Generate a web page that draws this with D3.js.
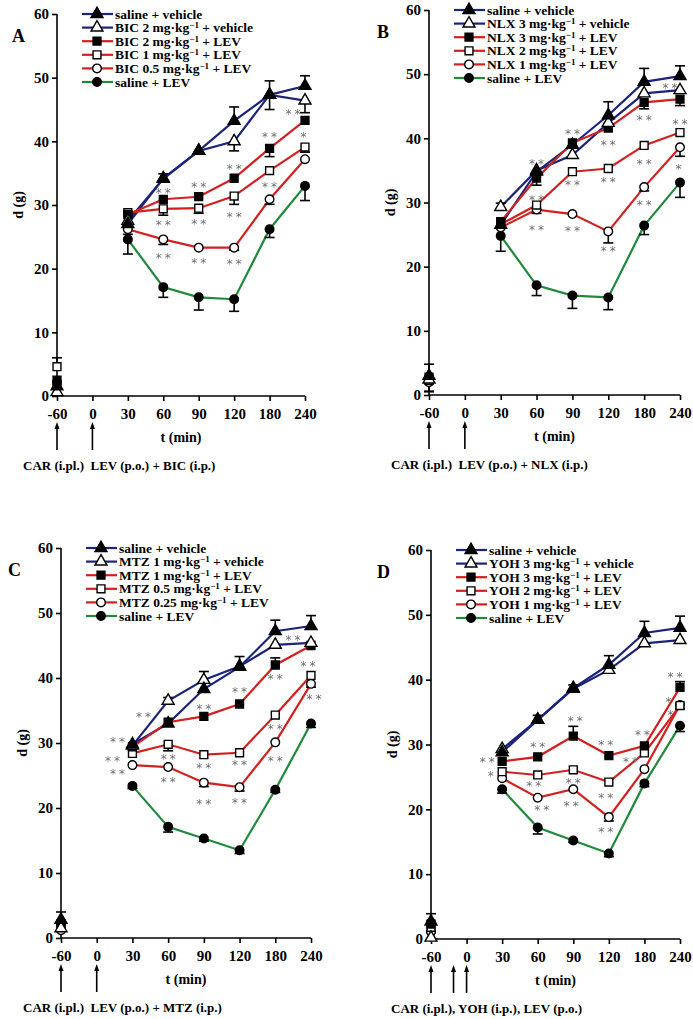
<!DOCTYPE html>
<html>
<head>
<meta charset="utf-8">
<script src="https://cdn.jsdelivr.net/npm/d3@7"></script>
<style>
  body { margin: 0; background: #fff; }
  text { font-family: "Liberation Serif", "Times New Roman", serif; font-weight: bold; fill: #000; }
  .star { font-family: "DejaVu Sans", "Liberation Sans", sans-serif; font-weight: normal; fill: #6e6e6e; }
</style>
</head>
<body>
<div id="vis"></div>
<script>
// x categories (min) and y ticks
var times = ["-60", "0", "30", "60", "90", "120", "180", "240"];
var yTicks = [0, 10, 20, 30, 40, 50, 60];

// ---- panel A : bicuculline
var namesA = ["saline + vehicle", "BIC 2 mg·kg^−1 + vehicle", "BIC 2 mg·kg^−1 + LEV",
              "BIC 1 mg·kg^−1 + LEV", "BIC 0.5 mg·kg^−1 + LEV", "saline + LEV"];
var valuesA = [
  [1.5, null, 27.0, 34.2, 38.5, 43.2, 47.3, 48.7],
  [0.6, null, 27.5, 34.1, 38.5, 40.0, 47.3, 46.4],
  [2.5, null, 28.5, 30.9, 31.3, 34.2, 38.9, 43.3],
  [4.6, null, 28.8, 29.4, 29.5, 31.4, 35.4, 39.1],
  [1.5, null, 26.2, 24.6, 23.3, 23.3, 30.9, 37.2],
  [2.2, null, 24.6, 17.1, 15.5, 15.2, 26.2, 33.0]
];
var errorsA = [
  [0, 0, 0, 0, 0, 2.2, 2.2, 1.6],
  [0, 0, 0, 0.8, 0, -1.5, -2.3, -1.9],
  [0, 0, 0, 0, 0, 0, -1.3, 0],
  [1.4, 0, 0, -1.0, -0.8, -1.3, 0, -0.8],
  [0, 0, -0.8, -0.8, 0, -0.4, -0.8, 0],
  [0, 0, -2.3, -1.6, -2.0, -1.9, -1.3, -2.3]
];
var starsA = [
  ["60", 32.2, "**", 0], ["60", 27.2, "**", 0], ["60", 22.0, "**", 0],
  ["90", 33.1, "**", 0], ["90", 27.4, "**", 0], ["90", 21.2, "**", 0],
  ["120", 36.0, "**", 0], ["120", 28.4, "**", 0], ["120", 21.1, "**", 0],
  ["180", 41.0, "**", 0], ["180", 33.1, "**", 0],
  ["240", 44.6, "**", -12], ["240", 41.0, "*", 0]
];

// ---- panel B : naloxone
var namesB = ["saline + vehicle", "NLX 3 mg·kg^−1 + vehicle", "NLX 3 mg·kg^−1 + LEV",
              "NLX 2 mg·kg^−1 + LEV", "NLX 1 mg·kg^−1 + LEV", "saline + LEV"];
var valuesB = [
  [3.0, null, 26.5, 34.8, 39.0, 43.6, 48.8, 49.7],
  [2.4, null, 29.3, 35.0, 37.4, 42.4, 47.0, 47.5],
  [2.8, null, 27.0, 33.8, 39.3, 41.6, 45.6, 46.1],
  [2.3, null, 26.6, 29.6, 34.8, 35.3, 38.9, 40.9],
  [2.0, null, 26.1, 28.9, 28.2, 25.5, 32.4, 38.6],
  [2.6, null, 24.8, 17.1, 15.5, 15.2, 26.4, 33.1]
];
var errorsB = [
  [1.8, 0, 0, 0, 0, 2.1, 2.1, 1.6],
  [0, 0, 0.6, 0, 0, 0, 0, 0],
  [0, 0, 0, -1.1, 0, 0, -1.0, -1.0],
  [0, 0, 0, 0, 0, 0, 0, 0],
  [-1.5, 0, 0, -0.6, 0, -1.8, -0.6, -1.4],
  [-2.0, 0, -2.4, -1.6, -2.0, -1.9, -1.4, -2.3]
];
var starsB = [
  ["60", 36.3, "**", 0], ["60", 30.7, "**", 0], ["60", 26.1, "**", 0],
  ["90", 41.0, "**", 0], ["90", 33.0, "**", 0], ["90", 25.8, "**", 0],
  ["120", 39.2, "**", 0], ["120", 33.5, "**", 0], ["120", 22.8, "**", 0],
  ["180", 43.1, "**", 0], ["180", 36.3, "**", 0], ["180", 29.9, "**", 0],
  ["240", 48.1, "**", -10], ["240", 42.6, "**", 0], ["240", 35.6, "*", 0]
];

// ---- panel C : metergoline
var namesC = ["saline + vehicle", "MTZ 1 mg·kg^−1 + vehicle", "MTZ 1 mg·kg^−1 + LEV",
              "MTZ 0.5 mg·kg^−1 + LEV", "MTZ 0.25 mg·kg^−1 + LEV", "saline + LEV"];
var valuesC = [
  [2.8, null, 29.8, 33.0, 38.3, 41.7, 47.2, 48.0],
  [1.5, null, 29.6, 36.5, 39.7, 41.8, 45.1, 45.4],
  [2.2, null, 29.4, 33.2, 34.1, 36.0, 42.0, 45.0],
  [1.8, null, 28.4, 29.8, 28.2, 28.5, 34.3, 40.4],
  [1.2, null, 26.6, 26.3, 23.9, 23.2, 30.1, 39.1],
  [2.3, null, 23.4, 17.1, 15.3, 13.5, 22.8, 33.0]
];
var errorsC = [
  [1.2, 0, 0, 0, 0, 0, 1.7, 1.6],
  [0, 0, 0, 0.5, 1.3, 1.5, 0, 0],
  [0, 0, 0, 0, 0, 0, 1.1, 0],
  [0, 0, 0, -1.0, 0, 0, 0, 0],
  [0, 0, 0, 0, -0.6, -0.6, 0, -0.5],
  [-1.0, 0, -0.4, -0.8, -0.4, -0.5, -0.4, -0.6]
];
var starsC = [
  ["30", 34.3, "**", 11], ["30", 30.5, "**", -15], ["30", 27.5, "**", -20], ["30", 25.6, "**", -15],
  ["60", 27.9, "**", 0], ["60", 24.3, "**", 0],
  ["90", 35.5, "**", 0], ["90", 26.5, "**", 0], ["90", 21.0, "**", 0],
  ["120", 38.1, "**", 0], ["120", 26.9, "**", 0], ["120", 21.1, "**", 0],
  ["180", 40.1, "**", 0], ["180", 32.4, "**", 0], ["180", 27.6, "**", 0],
  ["240", 46.1, "**", -18], ["240", 42.2, "**", -3], ["240", 37.1, "**", 3]
];

// ---- panel D : yohimbine
var namesD = ["saline + vehicle", "YOH 3 mg·kg^−1 + vehicle", "YOH 3 mg·kg^−1 + LEV",
              "YOH 2 mg·kg^−1 + LEV", "YOH 1 mg·kg^−1 + LEV", "saline + LEV"];
var valuesD = [
  [2.7, null, 28.8, 33.8, 38.7, 42.3, 47.2, 48.0],
  [0.2, null, 29.3, 33.8, 38.6, 41.5, 45.6, 46.1],
  [2.3, null, 27.4, 28.1, 31.3, 28.3, 29.8, 38.8],
  [1.8, null, 25.8, 25.3, 26.1, 24.2, 28.7, 36.0],
  [1.1, null, 24.8, 21.8, 23.1, 18.8, 26.2, 36.1],
  [2.5, null, 23.1, 17.2, 15.2, 13.2, 24.0, 32.9]
];
var errorsD = [
  [1.2, 0, 0, 0, 0, 1.4, 1.8, 1.8],
  [0, 0, 0, 0.7, 0.6, 0, 0, 0],
  [0, 0, 0, 0, 1.5, 0, 0, 0.9],
  [0, 0, 0, 0, 0, 0, 0, 0],
  [0, 0, 0, 0, 0, -0.6, 0, -0.6],
  [-1.5, 0, -0.6, -1.0, -0.3, -0.5, -0.5, -0.9]
];
var starsD = [
  ["30", 27.6, "**", -15], ["30", 25.5, "*", -10],
  ["60", 29.9, "**", 0], ["60", 23.9, "**", -4], ["60", 20.2, "**", 4],
  ["90", 33.9, "**", 2], ["90", 24.4, "**", 0], ["90", 20.8, "**", -2],
  ["120", 30.3, "**", -3], ["120", 22.1, "**", -3], ["120", 16.8, "**", -3],
  ["180", 31.7, "**", -2], ["180", 27.6, "**", -14],
  ["240", 40.7, "**", -5], ["240", 36.9, "*", -10], ["240", 34.9, "*", -8]
];

var seriesStyle = [
  { color: "#1b237a", shape: d3.symbolTriangle, fill: "#000" },
  { color: "#1b237a", shape: d3.symbolTriangle, fill: "#fff" },
  { color: "#d3201f", shape: d3.symbolSquare, fill: "#000" },
  { color: "#d3201f", shape: d3.symbolSquare, fill: "#fff" },
  { color: "#d3201f", shape: d3.symbolCircle, fill: "#fff" },
  { color: "#1e8a3a", shape: d3.symbolCircle, fill: "#000" }
];
var symSize = { triangle: 62, square: 62, circle: 58 };

var panels = [
  { letter: "A", names: namesA, values: valuesA, errors: errorsA, stars: starsA,
    caption: "CAR (i.pl.)  LEV (p.o.) + BIC (i.p.)", arrows: [-60, 0],
    x0: 57, x1: 305, top: 14, bottom: 396, letterX: 12, captionX: 23 },
  { letter: "B", names: namesB, values: valuesB, errors: errorsB, stars: starsB,
    caption: "CAR (i.pl.)  LEV (p.o.) + NLX (i.p.)", arrows: [-60, 0],
    x0: 429, x1: 680, top: 10, bottom: 395, letterX: 377, captionX: 391 },
  { letter: "C", names: namesC, values: valuesC, errors: errorsC, stars: starsC,
    caption: "CAR (i.pl.)  LEV (p.o.) + MTZ (i.p.)", arrows: [-60, 0],
    x0: 61, x1: 311, top: 548, bottom: 938, letterX: 8, captionX: 23 },
  { letter: "D", names: namesD, values: valuesD, errors: errorsD, stars: starsD,
    caption: "CAR (i.pl.), YOH (i.p.), LEV (p.o.)", arrows: [-60, -22, 0],
    x0: 431, x1: 680, top: 550, bottom: 939, letterX: 377, captionX: 391 }
];

var svg = d3.select("#vis").append("svg")
    .attr("width", 693).attr("height", 1019);

// greyscale filter so the small grey stars keep a neutral colour
svg.append("defs").append("filter").attr("id", "grey")
  .append("feColorMatrix").attr("type", "saturate").attr("values", 0);

function symbolPath(style) {
  var s = style.shape === d3.symbolTriangle ? symSize.triangle
        : style.shape === d3.symbolSquare ? symSize.square : symSize.circle;
  return d3.symbol().type(style.shape).size(s)();
}

function addLabel(sel, name) {
  // name uses "^" to mark the superscript "−1"
  var parts = name.split("^");
  sel.append("tspan").text(parts[0]);
  if (parts.length > 1) {
    sel.append("tspan").attr("dy", -4).attr("font-size", "9px").text(parts[1].slice(0, 2));
    sel.append("tspan").attr("dy", 4).text(parts[1].slice(2));
  }
}

panels.forEach(function(p) {
  var xScale = d3.scalePoint().domain(times).range([p.x0, p.x1]);
  var yScale = d3.scaleLinear().domain([0, 60]).range([p.bottom, p.top]);
  var g = svg.append("g");

  // axes
  var yAxis = d3.axisLeft(yScale).tickValues(yTicks).tickSize(5).tickPadding(3);
  var gy = g.append("g").attr("transform", "translate(" + p.x0 + ",0)").call(yAxis);
  var xAxis = d3.axisBottom(xScale).tickSize(5).tickPadding(7);
  var gx = g.append("g").attr("transform", "translate(0," + p.bottom + ")").call(xAxis);
  [gy, gx].forEach(function(a) {
    a.select(".domain").attr("stroke", "#000").attr("stroke-width", 1.6);
    a.selectAll(".tick line").attr("stroke", "#000").attr("stroke-width", 1.6);
    a.selectAll(".tick text").attr("font-size", "15px")
      .attr("font-family", "Liberation Serif, serif").attr("font-weight", "bold").attr("fill", "#000");
  });
  gy.select(".domain").attr("d", "M0," + p.bottom + "V" + p.top);
  gx.select(".domain").attr("d", "M" + p.x0 + ",0H" + p.x1);

  // axis titles
  g.append("text")
    .attr("transform", "translate(" + (p.x0 - 34) + "," + yScale(30) + ") rotate(-90)")
    .attr("text-anchor", "middle").attr("font-size", "14px").text("d (g)");
  g.append("text")
    .attr("x", (xScale("60") + xScale("90")) / 2).attr("y", p.bottom + 46)
    .attr("text-anchor", "middle").attr("font-size", "14px").text("t (min)");
  g.append("text")
    .attr("x", p.letterX).attr("y", p.top + 28)
    .attr("font-size", "18px").text(p.letter);

  // arrows for administration times
  var xm60 = xScale("-60"), x0t = xScale("0");
  p.arrows.forEach(function(t) {
    var ax = xm60 + (t + 60) / 60 * (x0t - xm60);
    var tip = p.bottom + 26, base = p.bottom + 54;
    g.append("line")
      .attr("x1", ax).attr("x2", ax)
      .attr("y1", base).attr("y2", tip + 4)
      .attr("stroke", "#000").attr("stroke-width", 1.6);
    g.append("path")
      .attr("d", "M" + (ax - 2.5) + "," + (tip + 7) + "L" + ax + "," + tip + "L" + (ax + 2.5) + "," + (tip + 7) + "Z")
      .attr("fill", "#000");
  });
  g.append("text")
    .attr("x", p.captionX).attr("y", p.bottom + 74)
    .attr("font-size", "13px").attr("xml:space", "preserve").text(p.caption);

  // lines
  var line = d3.line()
    .defined(function(d) { return d != null; })
    .x(function(d, i) { return xScale(times[i]); })
    .y(function(d) { return yScale(d); });
  p.values.forEach(function(vals, k) {
    g.append("path").datum(vals)
      .attr("d", line)
      .attr("fill", "none")
      .attr("stroke", seriesStyle[k].color)
      .attr("stroke-width", 2.2);
  });

  // error bars
  p.values.forEach(function(vals, k) {
    vals.forEach(function(v, i) {
      var e = p.errors[k][i];
      if (v == null || !e) return;
      var cx = xScale(times[i]), ye = yScale(v + e);
      g.append("line").attr("x1", cx).attr("x2", cx)
        .attr("y1", yScale(v)).attr("y2", ye)
        .attr("stroke", "#000").attr("stroke-width", 1.6);
      g.append("line").attr("x1", cx - 5).attr("x2", cx + 5)
        .attr("y1", ye).attr("y2", ye)
        .attr("stroke", "#000").attr("stroke-width", 1.6);
    });
  });

  // markers (drawn last series first so the legend order sits on top)
  p.values.slice().reverse().forEach(function(vals, rk) {
    var k = p.values.length - 1 - rk;
    var st = seriesStyle[k];
    var pts = vals.map(function(v, i) { return { v: v, t: times[i] }; })
                  .filter(function(d) { return d.v != null; });
    g.selectAll(null).data(pts).enter().append("path")
      .attr("d", symbolPath(st))
      .attr("transform", function(d) { return "translate(" + xScale(d.t) + "," + yScale(d.v) + ")"; })
      .attr("fill", st.fill)
      .attr("stroke", "#000")
      .attr("stroke-width", 1.4);
  });

  // significance stars
  g.append("g").attr("filter", "url(#grey)")
    .selectAll("text").data(p.stars).enter().append("text")
    .attr("class", "star")
    .attr("x", function(d) { return xScale(d[0]) + d[3] + (d[2].length > 1 ? 1.5 : 0); })
    .attr("y", function(d) { return yScale(d[1]) + 6; })
    .attr("text-anchor", "middle")
    .attr("font-size", "12px")
    .attr("letter-spacing", "3px")
    .text(function(d) { return d[2]; });

  // legend
  var lx = p.x0 + 25;
  var lg = g.append("g");
  p.names.forEach(function(name, k) {
    var ly = p.top + k * 13.6;
    var st = seriesStyle[k];
    lg.append("line").attr("x1", lx).attr("x2", lx + 31)
      .attr("y1", ly).attr("y2", ly)
      .attr("stroke", st.color).attr("stroke-width", 2.2);
    lg.append("path").attr("d", symbolPath(st))
      .attr("transform", "translate(" + (lx + 15) + "," + ly + ")")
      .attr("fill", st.fill).attr("stroke", "#000").attr("stroke-width", 1.4);
    var t = lg.append("text").attr("x", lx + 33).attr("y", ly + 4.5).attr("font-size", "13.5px");
    addLabel(t, name);
  });
});
</script>
</body>
</html>
